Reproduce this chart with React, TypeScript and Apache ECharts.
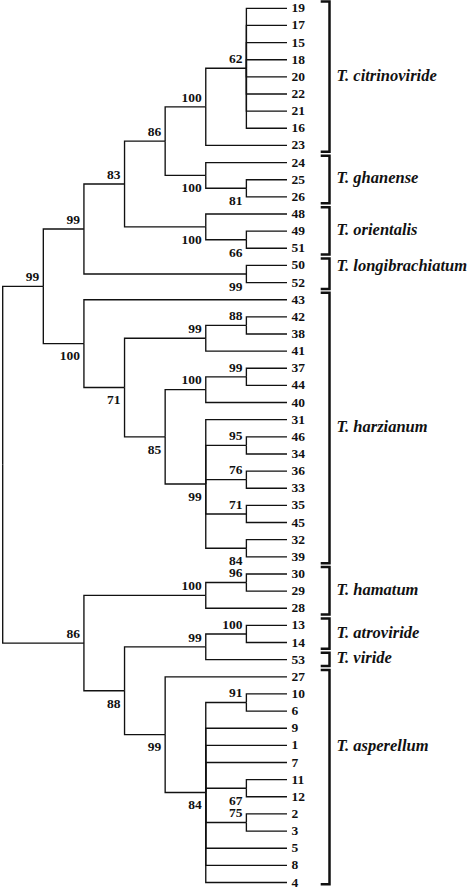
import React, { useEffect, useRef } from "react";
import * as echarts from "echarts";

// Clades in Newick notation, leaves listed top to bottom.
// A number after ")" is the bootstrap support; a trailing "v" puts it below the branch.
const CITRINOVIRIDE = "((19,17,15,18,20,22,21,16)62,23)100";
const GHANENSE = "(24,(25,26)81v)100v";
const ORIENTALIS = "(48,(49,51)66v)100v";
const LONGIBRACHIATUM = "(50,52)99v";
const HARZIANUM =
  "(43,(((42,38)88,41)99,(((37,44)99,40)100,(31,(46,34)95,(36,33)76,(35,45)71,(32,39)84v)99v)85v)71v)100v";
const HAMATUM = "((30,29)96,28)100";
const ATRO_VIRIDE = "((13,14)100,53)99";
const ASPERELLUM = "(27,((10,6)91,9,1,7,(11,12)67v,(2,3)75,5,8,4)84v)99v";

const NEWICK = `(((((${CITRINOVIRIDE},${GHANENSE})86,${ORIENTALIS})83,${LONGIBRACHIATUM})99,${HARZIANUM})99,(${HAMATUM},(${ATRO_VIRIDE},${ASPERELLUM})88v)86);`;

// Species brackets
const GROUP_NAMES = [
  "T. citrinoviride",
  "T. ghanense",
  "T. orientalis",
  "T. longibrachiatum",
  "T. harzianum",
  "T. hamatum",
  "T. atroviride",
  "T. viride",
  "T. asperellum",
];
const GROUP_FIRST = ["19", "24", "48", "50", "43", "30", "13", "53", "27"];
const GROUP_LAST = ["23", "26", "51", "52", "39", "28", "14", "53", "4"];
const GROUP_LABEL_LEAF = ["", "", "", "50", "", "", "", "", "1"];

type TNode = {
  name?: string;
  support?: number;
  below?: boolean;
  children: TNode[];
  x: number;
  y: number;
  h: number;
};

function parseNewick(s: string): TNode {
  let i = 0;
  function node(): TNode {
    if (s[i] === "(") {
      i++;
      const children: TNode[] = [];
      for (;;) {
        children.push(node());
        if (s[i] === ",") {
          i++;
          continue;
        }
        if (s[i] === ")") {
          i++;
          break;
        }
        break;
      }
      let lab = "";
      while (i < s.length && /[0-9v]/.test(s[i])) lab += s[i++];
      const n: TNode = { children, x: 0, y: 0, h: 0 };
      if (lab) {
        n.below = lab.endsWith("v");
        n.support = parseInt(lab, 10);
      }
      return n;
    }
    let name = "";
    while (i < s.length && /[^,();]/.test(s[i])) name += s[i++];
    return { name, children: [], x: 0, y: 0, h: 0 };
  }
  return node();
}

const root = parseNewick(NEWICK);
const leaves: TNode[] = [];
const internals: TNode[] = [];
function layout(n: TNode): number {
  if (!n.children.length) {
    n.y = leaves.length;
    leaves.push(n);
    n.h = 0;
    return 0;
  }
  let h = 0;
  for (const c of n.children) h = Math.max(h, layout(c) + 1);
  n.h = h;
  n.y = (n.children[0].y + n.children[n.children.length - 1].y) / 2;
  internals.push(n);
  return h;
}
const HEIGHT = layout(root);
function setX(n: TNode) {
  n.x = HEIGHT - n.h;
  n.children.forEach(setX);
}
setX(root);

const edges: number[][] = [];
internals.forEach((n) => n.children.forEach((c) => edges.push([n.x, n.y, c.x, c.y])));
const supported = internals.filter((n) => n.support !== undefined);
const rowOf = (name: string) => leaves.findIndex((l) => l.name === name);
const groupRows = GROUP_NAMES.map((_, k) => [rowOf(GROUP_FIRST[k]), rowOf(GROUP_LAST[k])]);
const LAST_ROW = leaves.length - 1;

const SERIF = '"Liberation Serif", "Times New Roman", serif';
const INK = "#111";

function buildOption(): echarts.EChartsOption {
  return {
    animation: false,
    backgroundColor: "#fff",
    grid: { left: 2.7, top: 8.3, width: 284.3, height: 874.2 },
    xAxis: { type: "value", min: 0, max: HEIGHT, show: false },
    yAxis: { type: "value", min: 0, max: LAST_ROW, inverse: true, show: false },
    series: [
      {
        type: "custom",
        name: "branches",
        silent: true,
        data: edges,
        renderItem: (_p: any, api: any) => {
          const a = api.coord([api.value(0), api.value(1)]);
          const b = api.coord([api.value(0), api.value(3)]);
          const c = api.coord([api.value(2), api.value(3)]);
          return {
            type: "polyline",
            shape: { points: [a, b, c] },
            style: { stroke: "#111", lineWidth: 1.35, fill: "none" },
          };
        },
      } as any,
      {
        type: "custom",
        name: "leaves",
        silent: true,
        data: leaves.map((l) => [l.x, l.y]),
        renderItem: (p: any, api: any) => {
          const pt = api.coord([api.value(0), api.value(1)]);
          return {
            type: "text",
            x: pt[0] + 4.5,
            y: pt[1] - 0.5,
            style: {
              text: leaves[p.dataIndex].name,
              fill: INK,
              fontFamily: SERIF,
              fontWeight: "bold",
              fontSize: 13.5,
              lineHeight: 11,
              align: "left",
              verticalAlign: "middle",
            },
          };
        },
      } as any,
      {
        type: "custom",
        name: "support",
        silent: true,
        data: supported.map((n) => [n.x, n.y]),
        renderItem: (p: any, api: any) => {
          const n = supported[p.dataIndex];
          const pt = api.coord([api.value(0), api.value(1)]);
          return {
            type: "text",
            x: pt[0] - 4,
            y: pt[1] + (n.below ? 12.3 : -9.8),
            style: {
              text: String(n.support),
              fill: INK,
              fontFamily: SERIF,
              fontWeight: "bold",
              fontSize: 13.5,
              lineHeight: 11,
              align: "right",
              verticalAlign: "middle",
            },
          };
        },
      } as any,
      {
        type: "custom",
        name: "brackets",
        silent: true,
        data: groupRows.map((g) => [HEIGHT, g[0] - 0.4, Math.min(g[1] + 0.37, LAST_ROW + 0.1)]),
        renderItem: (_p: any, api: any) => {
          const top = api.coord([api.value(0), api.value(1)]);
          const bot = api.coord([api.value(0), api.value(2)]);
          const xt = top[0] + 33.7;
          const xb = top[0] + 42.5;
          return {
            type: "polyline",
            shape: {
              points: [
                [xt, top[1]],
                [xb, top[1]],
                [xb, bot[1]],
                [xt, bot[1]],
              ],
            },
            style: { stroke: "#111", lineWidth: 2.5, fill: "none", lineJoin: "miter" },
          };
        },
      } as any,
      {
        type: "custom",
        name: "species",
        silent: true,
        data: groupRows.map((g, k) => {
          const at = GROUP_LABEL_LEAF[k] ? rowOf(GROUP_LABEL_LEAF[k]) : (g[0] + g[1]) / 2 - 0.1;
          return [HEIGHT, at];
        }),
        renderItem: (p: any, api: any) => {
          const pt = api.coord([api.value(0), api.value(1)]);
          return {
            type: "text",
            x: pt[0] + 49.5,
            y: pt[1],
            style: {
              text: GROUP_NAMES[p.dataIndex],
              fill: INK,
              fontFamily: SERIF,
              fontWeight: "bold",
              fontStyle: "italic",
              fontSize: 16.5,
              align: "left",
              verticalAlign: "middle",
            },
          };
        },
      } as any,
    ],
  };
}

export default function App() {
  const ref = useRef<HTMLDivElement>(null);
  useEffect(() => {
    if (!ref.current) return;
    const chart = echarts.init(ref.current, undefined, { renderer: "svg" });
    chart.setOption(buildOption());
    return () => chart.dispose();
  }, []);
  return (
    <div
      ref={ref}
      style={{ position: "fixed", left: 0, top: 0, width: 472, height: 887, background: "#fff" }}
    />
  );
}
